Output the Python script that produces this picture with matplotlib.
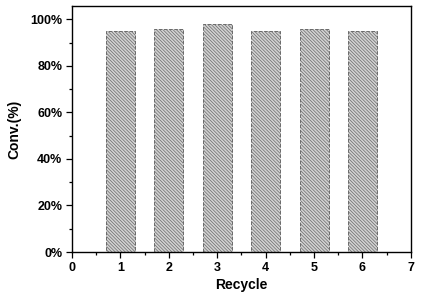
import numpy as np
import matplotlib.pyplot as plt
from matplotlib.ticker import MultipleLocator, FuncFormatter

recycle = [1, 2, 3, 4, 5, 6]
conv = [95, 96, 98, 95, 96, 95]

plt.rcParams['font.family'] = ['Liberation Sans', 'DejaVu Sans']
plt.rcParams['font.weight'] = 'bold'
plt.rcParams['hatch.color'] = '#6e6e6e'
plt.rcParams['hatch.linewidth'] = 0.5

fig = plt.figure(figsize=(4.28, 2.97), dpi=100)
ax = fig.add_axes([0.168, 0.1515, 0.792, 0.828])

ax.bar(recycle, conv, width=0.6, color='#d2d2d2', edgecolor='#6a6a6a',
       hatch='\\' * 10, linewidth=0.7, linestyle='--')

ax.set_xlim(0, 7)
ax.set_ylim(0, 105.7)
ax.xaxis.set_major_locator(MultipleLocator(1))
ax.xaxis.set_minor_locator(MultipleLocator(0.5))
ax.yaxis.set_major_locator(MultipleLocator(20))
ax.yaxis.set_minor_locator(MultipleLocator(10))
ax.yaxis.set_major_formatter(FuncFormatter(lambda v, p: '%d%%' % v))
ax.tick_params(which='major', length=4, width=0.9, labelsize=9, direction='out', pad=3)
ax.tick_params(which='minor', length=2, width=0.9, direction='out')
for lab in ax.get_xticklabels() + ax.get_yticklabels():
    lab.set_fontweight('bold')
for s in ax.spines.values():
    s.set_linewidth(1.0)

ax.set_xlabel('Recycle', fontsize=10, fontweight='bold', labelpad=3)
ax.set_ylabel('Conv.(%)', fontsize=10, fontweight='bold', labelpad=6)

fig.savefig('out.png', dpi=100)
